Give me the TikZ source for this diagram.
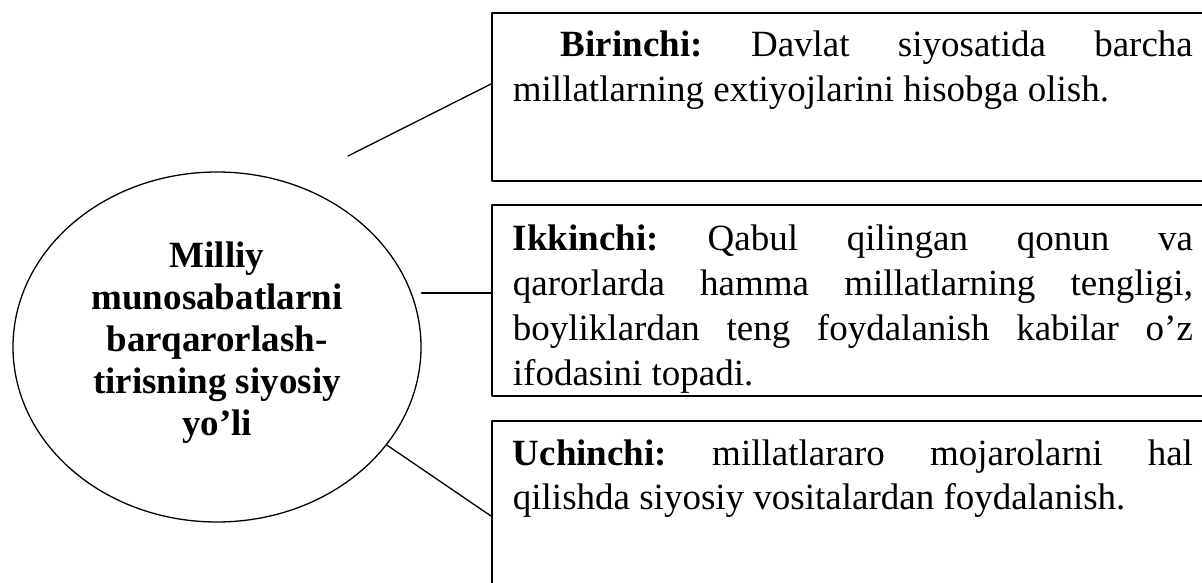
\documentclass[tikz,border=0pt]{standalone}
\usepackage{fontspec}
\setmainfont{Liberation Serif}
\usetikzlibrary{shapes.geometric}
\hbadness=10000
\frenchspacing

\begin{document}
\begin{tikzpicture}[x=1pt, y=-1pt, line cap=round, line join=round,
    core/.style={draw, ellipse, line width=1.3pt, minimum width=408, minimum height=350,
      inner sep=0pt, align=center, font=\bfseries\fontsize{37}{42}\selectfont},
    infobox/.style={draw, line width=1.8pt, anchor=north west, inner xsep=21pt, inner ysep=0pt},
    link/.style={line width=1.3pt}]

  %% ════ ellipse ════
  \node[core] (core) at (217,347) {Milliy\\ munosabatlarni\\ barqarorlash-\\ tirisning siyosiy\\ yo’li\rule[-17pt]{0pt}{0pt}};

  %% ════ boxes (right side runs off the page) ════
  \node[infobox] (first) at (491,12) {\parbox[t][168pt][t]{680pt}{\fontsize{37}{45}\selectfont
    \rule{0pt}{44pt}\hspace*{48pt}\textbf{Birinchi:} Davlat siyosatida barcha\linebreak
    millatlarning extiyojlarini hisobga olish.}};
  \node[infobox] (second) at (491,204) {\parbox[t][191pt][t]{680pt}{\fontsize{37}{45}\selectfont
    \rule{0pt}{46pt}\textbf{Ikkinchi:} Qabul qilingan qonun va\linebreak
    qarorlarda hamma millatlarning tengligi,\linebreak
    boyliklardan teng foydalanish kabilar o’z\linebreak
    ifodasini topadi.}};
  \node[infobox] (third) at (491,420) {\parbox[t][185pt][t]{680pt}{\fontsize{37}{44}\selectfont
    \rule{0pt}{45pt}\textbf{Uchinchi:} millatlararo mojarolarni hal\linebreak
    qilishda siyosiy vositalardan foydalanish.}};

  %% ════ connectors ════
  \coordinate (tail) at (348,156);
  \coordinate (midend) at ([yshift=-89pt]second.north west);
  \draw[link] (tail) -- ([yshift=-72pt]first.north west);
  \draw[link] (core.east |- midend) -- (midend);
  \draw[link] (core.-30) -- ([yshift=-96pt]third.north west);

  % fix the canvas
  \pgfresetboundingbox
  \path[use as bounding box] (0,0) rectangle (1202,583);
\end{tikzpicture}
\end{document}
